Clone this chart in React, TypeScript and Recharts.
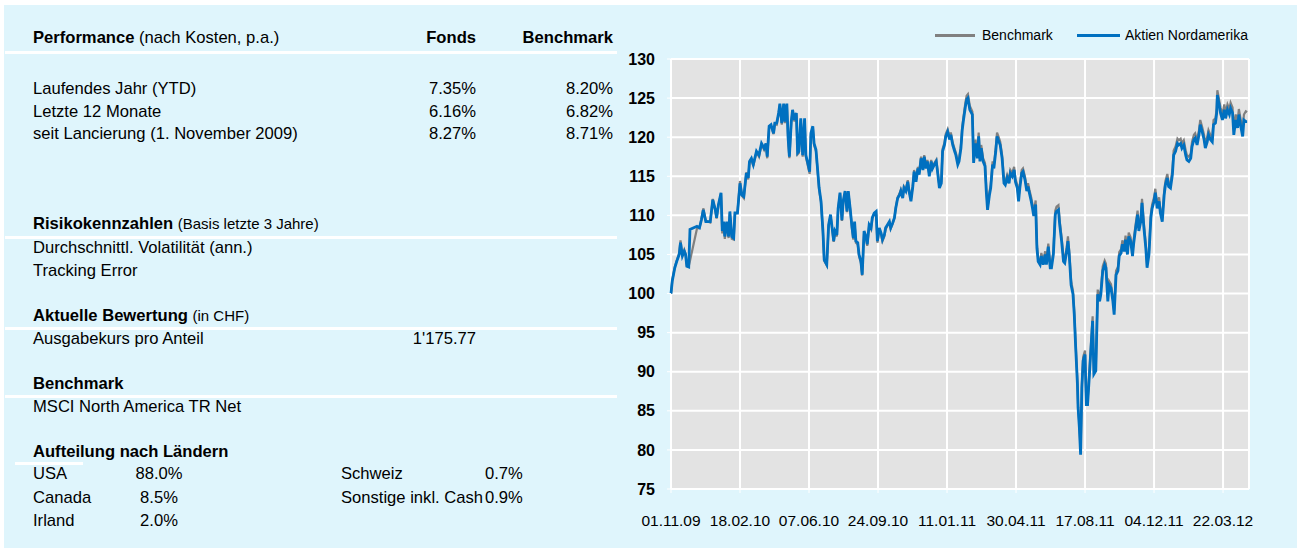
import React from 'react';
import { LineChart, Line, XAxis, YAxis, CartesianGrid, ReferenceLine } from 'recharts';

// Tage seit Lancierung (01.11.2009)
const days = [
  0, 2, 6, 9, 13, 15, 18, 21, 23, 25,
  28, 30, 41, 45, 48, 51, 55, 62, 66, 70,
  72, 75, 79, 81, 83, 85, 88, 91, 93, 96,
  99, 101, 105, 109, 112, 115, 119, 122, 124, 127,
  130, 135, 139, 143, 147, 150, 152, 155, 158, 162,
  164, 167, 170, 172, 175, 178, 180, 183, 185, 187,
  190, 192, 195, 198, 200, 202, 205, 208, 211, 213,
  216, 219, 221, 224, 226, 229,
  234, 237, 240, 242, 246, 249, 252, 257, 259, 262,
  264, 267, 270, 272, 275, 278, 280, 283, 286, 288,
  290, 292, 295, 297, 300, 302, 305, 308, 310, 313,
  316, 318, 321, 324, 326, 329, 332, 334, 337, 339,
  342, 345, 347, 350, 353, 355, 358, 361, 363, 366,
  368, 371, 374, 376, 379, 382, 384, 387, 390, 392,
  395, 398, 400, 403, 405, 408, 411, 413, 416, 419,
  421, 424, 427, 429, 432, 434, 437, 440, 442, 445,
  448, 450, 453,
  455, 458, 460, 462, 465, 467, 469, 472, 476, 478,
  481, 484, 486, 488, 490, 493, 496, 498, 500, 503,
  505, 508, 510, 513, 515, 518, 520, 523, 526, 528,
  531, 534, 536, 539, 542, 544, 547, 549, 551, 554,
  556, 559, 562, 564, 566, 569, 571, 573, 576, 578,
  580, 583, 585, 588, 591, 593, 596, 599, 601, 604,
  607, 609, 612, 614, 617, 620, 622, 625, 627, 629,
  632, 635, 637, 639, 642, 643, 645, 647, 649, 651,
  654, 656, 658, 661, 664, 666, 668, 671, 674,
  677, 679, 682, 685, 687, 690, 692, 695, 698, 700,
  703, 706, 708, 711, 713, 716, 718, 721, 723, 726,
  729, 731, 734, 737, 739, 742, 744, 747, 750, 752,
  755, 758, 760, 763, 765, 768, 771, 773, 776, 779,
  781, 784, 786, 789, 792, 794, 797, 800, 802, 805,
  807, 810, 813, 815, 818, 821, 823, 826, 828, 831,
  834, 836, 839, 842, 844, 847, 849, 852, 855, 857,
  860, 862, 863, 866, 868, 871, 874, 876, 879, 882,
  884, 887, 889, 892, 895, 897, 900, 903, 905, 908,
  910,
];

const fondsValues = [
  100.0, 101.6, 103.3, 104.1, 105.0, 106.5, 104.8, 105.4, 105.0, 103.5,
  103.4, 108.2, 108.6, 108.4, 109.4, 110.7, 109.2, 109.2, 112.0, 110.7,
  109.7, 111.4, 112.9, 108.0, 109.2, 107.3, 109.2, 107.3, 110.5, 107.3,
  107.1, 110.3, 110.3, 114.1, 112.6, 112.4, 115.4, 114.8, 116.9, 117.3,
  116.5, 118.2, 117.7, 119.2, 118.6, 119.2, 117.5, 121.4, 121.6, 120.5,
  121.8, 121.8, 123.1, 124.3, 121.8, 124.3, 122.0, 124.3, 119.9, 117.5,
  122.0, 123.5, 122.2, 123.1, 118.0, 118.2, 122.4, 117.7, 122.4, 117.7,
  116.7, 115.6, 120.5, 121.4, 119.2, 118.4,
  113.5, 111.8, 108.0, 104.3, 103.7, 108.8, 110.1, 106.7, 108.0, 107.5,
  110.9, 112.9, 109.4, 111.8, 113.1, 110.5, 113.1, 110.9, 108.4, 107.1,
  109.2, 106.7, 106.5, 105.0, 104.1, 102.4, 108.0, 107.3, 106.3, 108.8,
  108.4, 109.7, 110.3, 110.5, 106.7, 108.4, 107.7, 106.9, 107.5, 108.4,
  108.8, 109.2, 108.4, 109.0, 109.7, 110.9, 112.2, 112.6, 113.1, 112.2,
  113.5, 113.1, 114.3, 113.1, 111.8, 113.7, 115.6, 114.3, 116.0, 115.2,
  117.3, 115.8, 117.5, 116.0, 116.9, 115.0, 116.9, 116.0, 116.5, 116.9,
  115.6, 113.5, 114.1, 118.2, 119.0, 120.1, 120.7, 119.7, 120.3, 119.0,
  118.2, 117.7, 116.5,
  116.9, 118.6, 120.9, 122.2, 123.9, 124.8, 125.0, 123.5, 122.9, 116.7,
  119.2, 117.3, 120.1, 116.9, 118.6, 116.9, 116.3, 113.1, 110.7, 112.6,
  113.5, 116.5, 116.0, 118.2, 120.1, 119.4, 119.0, 117.3, 114.1, 113.9,
  114.8, 114.1, 115.4, 115.0, 115.8, 114.3, 113.5, 111.8, 113.5, 115.4,
  115.6, 114.6, 113.1, 113.7, 112.9, 111.8, 110.9, 109.9, 111.4, 105.8,
  104.1, 103.7, 104.8, 103.7, 105.0, 103.7, 106.0, 103.3, 103.3, 105.0,
  110.1, 110.5, 110.7, 108.8, 106.7, 104.1, 103.9, 105.4, 106.7, 105.0,
  101.1, 99.9, 97.3, 93.5, 88.4, 85.4, 82.9, 79.4, 87.9, 91.4,
  92.2, 85.8, 85.8, 89.7, 93.9, 96.5, 89.7, 90.1, 99.9,
  99.0, 99.9, 102.9, 103.7, 103.3, 99.0, 101.1, 100.7, 99.0, 97.3,
  102.4, 102.9, 104.8, 105.2, 106.3, 105.4, 106.9, 105.0, 107.3, 106.7,
  104.8, 106.5, 108.4, 110.1, 108.0, 109.2, 111.6, 108.4, 105.8, 103.3,
  105.0, 109.7, 110.9, 111.8, 112.9, 110.9, 111.8, 110.3, 109.2, 112.6,
  113.9, 114.8, 113.7, 113.5, 115.2, 117.7, 118.2, 119.2, 119.0, 119.2,
  118.6, 119.0, 117.7, 117.1, 116.9, 117.3, 118.8, 119.7, 119.9, 119.0,
  120.3, 121.6, 120.7, 119.7, 118.6, 119.4, 120.3, 119.7, 119.4, 121.6,
  121.8, 123.1, 125.4, 124.1, 123.1, 122.2, 123.5, 122.4, 123.5, 122.9,
  123.7, 123.1, 120.3, 122.2, 121.2, 122.9, 121.4, 120.1, 122.2, 122.0,
  122.0,
];

const benchmarkValues = [
  100.0, 101.7, 103.4, 104.2, 105.2, 106.8, 104.9, 105.6, 105.1, 103.6,
  103.5, 104.2, 108.3, 108.4, 109.5, 110.9, 109.3, 109.1, 112.1, 110.6,
  109.6, 111.3, 112.8, 107.7, 109.0, 107.0, 109.0, 107.1, 110.3, 107.0,
  106.9, 110.2, 110.4, 114.4, 112.5, 112.2, 115.5, 114.6, 116.7, 117.2,
  116.3, 118.1, 117.5, 119.1, 118.4, 119.1, 117.3, 121.3, 121.4, 120.4,
  121.7, 121.6, 123.0, 124.2, 121.6, 124.2, 121.8, 124.1, 119.7, 117.3,
  121.9, 123.3, 122.0, 122.9, 117.8, 118.0, 122.2, 117.5, 122.2, 117.5,
  116.4, 115.3, 120.3, 121.3, 119.0, 118.2,
  113.3, 111.6, 107.8, 104.2, 103.6, 108.6, 110.0, 106.6, 107.9, 107.3,
  110.8, 112.8, 109.3, 111.7, 113.0, 110.4, 113.0, 110.8, 108.2, 106.9,
  109.0, 106.5, 106.3, 104.8, 103.9, 102.3, 107.8, 107.1, 106.1, 108.7,
  108.2, 109.6, 110.2, 110.4, 106.5, 108.2, 107.5, 106.7, 107.3, 108.2,
  108.7, 109.1, 108.3, 108.9, 109.7, 111.0, 112.3, 112.8, 113.3, 112.4,
  113.7, 113.3, 114.5, 113.3, 112.0, 113.9, 115.8, 114.5, 116.2, 115.4,
  117.5, 116.0, 117.7, 116.2, 117.1, 115.2, 117.1, 116.2, 116.7, 117.1,
  115.8, 113.7, 114.4, 118.5, 119.3, 120.4, 121.0, 120.0, 120.6, 119.3,
  118.5, 118.0, 116.8,
  117.2, 119.0, 121.3, 122.6, 124.4, 125.3, 125.5, 124.0, 123.3, 117.1,
  119.7, 117.7, 120.6, 117.3, 119.0, 117.3, 116.7, 113.5, 111.0, 113.0,
  113.9, 116.9, 116.4, 118.7, 120.6, 119.9, 119.4, 117.7, 114.5, 114.3,
  115.2, 114.5, 115.8, 115.4, 116.2, 114.7, 113.9, 112.2, 113.9, 115.8,
  116.0, 115.0, 113.5, 114.1, 113.3, 112.3, 111.4, 110.4, 111.9, 106.3,
  104.5, 104.1, 105.2, 104.1, 105.4, 104.1, 106.4, 103.7, 103.7, 105.4,
  110.6, 111.1, 111.3, 109.3, 107.2, 104.6, 104.4, 105.9, 107.3, 105.5,
  101.6, 100.3, 97.7, 93.9, 88.8, 85.8, 83.3, 79.8, 88.3, 91.9,
  92.7, 86.2, 86.2, 90.2, 94.4, 97.1, 90.1, 90.5, 100.5,
  99.5, 100.5, 103.5, 104.2, 103.8, 99.5, 101.6, 101.2, 99.5, 97.8,
  102.9, 103.4, 105.3, 105.7, 106.8, 105.9, 107.4, 105.5, 107.8, 107.2,
  105.3, 107.0, 108.9, 110.6, 108.5, 109.7, 112.1, 108.9, 106.3, 103.8,
  105.5, 110.2, 111.4, 112.3, 113.4, 111.4, 112.3, 110.8, 109.7, 113.1,
  114.4, 115.3, 114.2, 114.0, 115.8, 118.3, 118.8, 119.8, 119.6, 119.8,
  119.2, 119.6, 118.3, 117.7, 117.5, 117.9, 119.4, 120.3, 120.5, 119.6,
  120.9, 122.2, 121.3, 120.3, 119.2, 120.0, 120.9, 120.3, 120.0, 122.2,
  122.4, 123.7, 126.0, 124.7, 123.8, 122.9, 124.2, 123.1, 124.2, 123.6,
  124.4, 123.8, 121.0, 122.9, 122.0, 123.6, 122.2, 120.8, 122.9, 123.3,
  123.2,
];

const xTickDays = [0, 109, 218, 327, 436, 545, 654, 763, 872];
const xTickLabels = ['01.11.09', '18.02.10', '07.06.10', '24.09.10', '11.01.11', '30.04.11', '17.08.11', '04.12.11', '22.03.12'];
const yTicks = [75, 80, 85, 90, 95, 100, 105, 110, 115, 120, 125, 130];
const lastDay = 913;

const perfRows = ['Laufendes Jahr (YTD)', 'Letzte 12 Monate', 'seit Lancierung (1. November 2009)'];
const perfFonds = ['7.35%', '6.16%', '8.27%'];
const perfBenchmark = ['8.20%', '6.82%', '8.71%'];
const riskRows = ['Durchschnittl. Volatilität (ann.)', 'Tracking Error'];
const countriesLeft = ['USA', 'Canada', 'Irland'];
const sharesLeft = ['88.0%', '8.5%', '2.0%'];
const countriesRight = ['Schweiz', 'Sonstige inkl. Cash'];
const sharesRight = ['0.7%', '0.9%'];

const FONT = '"Liberation Sans", Arial, sans-serif';
const BLUE = '#0070C0';
const GREY = '#808080';
const TXT = 16.6;
const SMALL = 15;

const chartData = days.map((day, i) => ({
  day,
  fonds: fondsValues[i],
  benchmark: benchmarkValues[i],
}));

// text line placed by its vertical centre
const T: React.FC<{ x: number; y: number; align?: 'left' | 'right' | 'center'; bold?: boolean; size?: number; children: React.ReactNode }> = ({
  x, y, align = 'left', bold, size = TXT, children,
}) => {
  const pos: React.CSSProperties =
    align === 'right' ? { right: 1297 - x, textAlign: 'right' }
    : align === 'center' ? { left: x - 60, width: 120, textAlign: 'center' }
    : { left: x };
  return (
    <div
      style={{
        position: 'absolute',
        top: y - 10,
        height: 20,
        lineHeight: '20px',
        whiteSpace: 'nowrap',
        fontSize: size,
        fontWeight: bold ? 'bold' : 'normal',
        ...pos,
      }}
    >
      {children}
    </div>
  );
};

const Rule: React.FC<{ y: number; x1?: number; x2?: number }> = ({ y, x1 = 5, x2 = 617 }) => (
  <div style={{ position: 'absolute', left: x1, top: y - 1, width: x2 - x1, height: 3, background: '#fff' }} />
);

const App: React.FC = () => {
  return (
    <div style={{ position: 'absolute', left: 0, top: 0, width: 1297, height: 550, background: '#fff', fontFamily: FONT, color: '#000', overflow: 'hidden' }}>
      <div style={{ position: 'absolute', left: 4, top: 5, width: 1293, height: 543, background: '#DFF5FC' }} />

      {/* Performance */}
      <T x={33} y={38} bold>Performance <span style={{ fontWeight: 'normal' }}>(nach Kosten, p.a.)</span></T>
      <T x={476} y={38} align="right" bold>Fonds</T>
      <T x={613} y={38} align="right" bold>Benchmark</T>
      <Rule y={52} />
      {perfRows.map((label, i) => (
        <React.Fragment key={label}>
          <T x={33} y={89 + i * 22.5}>{label}</T>
          <T x={476} y={89 + i * 22.5} align="right">{perfFonds[i]}</T>
          <T x={613} y={89 + i * 22.5} align="right">{perfBenchmark[i]}</T>
        </React.Fragment>
      ))}

      {/* Risiko */}
      <T x={33} y={224} bold>Risikokennzahlen <span style={{ fontWeight: 'normal', fontSize: SMALL }}>(Basis letzte 3 Jahre)</span></T>
      <Rule y={237} />
      {riskRows.map((label, i) => (
        <T key={label} x={33} y={248 + i * 23}>{label}</T>
      ))}

      {/* Bewertung */}
      <T x={33} y={316} bold>Aktuelle Bewertung <span style={{ fontWeight: 'normal', fontSize: SMALL }}>(in CHF)</span></T>
      <Rule y={328} />
      <T x={33} y={339}>Ausgabekurs pro Anteil</T>
      <T x={476} y={339} align="right">1'175.77</T>

      {/* Benchmark */}
      <T x={33} y={384} bold>Benchmark</T>
      <Rule y={396} />
      <T x={33} y={407}>MSCI North America TR Net</T>

      {/* Länder */}
      <T x={33} y={452} bold>Aufteilung nach Ländern</T>
      <Rule y={463} x1={15} x2={83} />
      {countriesLeft.map((c, i) => (
        <React.Fragment key={c}>
          <T x={33} y={474 + i * 23.5}>{c}</T>
          <T x={159} y={474 + i * 23.5} align="center">{sharesLeft[i]}</T>
        </React.Fragment>
      ))}
      {countriesRight.map((c, i) => (
        <React.Fragment key={c}>
          <T x={341} y={474 + i * 23.5}>{c}</T>
          <T x={485} y={474 + i * 23.5}>{sharesRight[i]}</T>
        </React.Fragment>
      ))}

      {/* Legende */}
      <div style={{ position: 'absolute', left: 935, top: 34, width: 40, height: 3, background: GREY }} />
      <T x={982} y={35} size={14}>Benchmark</T>
      <div style={{ position: 'absolute', left: 1077, top: 34, width: 43, height: 3, background: BLUE }} />
      <T x={1125} y={35} size={14}>Aktien Nordamerika</T>

      <div style={{ position: 'absolute', left: 620, top: 20 }}>
        <LineChart width={660} height={520} data={chartData} margin={{ top: 39, right: 31, left: 11, bottom: 21 }}>
          <CartesianGrid stroke="#fff" strokeWidth={2} fill="#E3E3E3" fillOpacity={1} />
          <XAxis
            dataKey="day"
            type="number"
            domain={[0, lastDay]}
            ticks={xTickDays}
            tickFormatter={(v: number) => xTickLabels[xTickDays.indexOf(v)] ?? ''}
            axisLine={false}
            tickLine={{ stroke: '#fff', strokeWidth: 1 }}
            tickSize={4}
            tickMargin={22}
            height={30}
            interval={0}
            tick={{ fill: '#000', fontSize: 15.5, fontFamily: FONT }}
          />
          <YAxis
            type="number"
            domain={[75, 130]}
            ticks={yTicks}
            axisLine={false}
            tickLine={{ stroke: '#fff', strokeWidth: 1 }}
            tickSize={4}
            tickMargin={12}
            width={40}
            interval={0}
            tick={{ fill: '#000', fontSize: 16, fontWeight: 'bold', fontFamily: FONT }}
          />
          <ReferenceLine x={lastDay} stroke="#fff" strokeWidth={2} />
          <Line
            type="linear"
            dataKey="benchmark"
            name="Benchmark"
            stroke={GREY}
            strokeWidth={2.2}
            dot={false}
            isAnimationActive={false}
          />
          <Line
            type="linear"
            dataKey="fonds"
            name="Aktien Nordamerika"
            stroke={BLUE}
            strokeWidth={2.8}
            dot={false}
            isAnimationActive={false}
          />
        </LineChart>
      </div>
    </div>
  );
};

export default App;
